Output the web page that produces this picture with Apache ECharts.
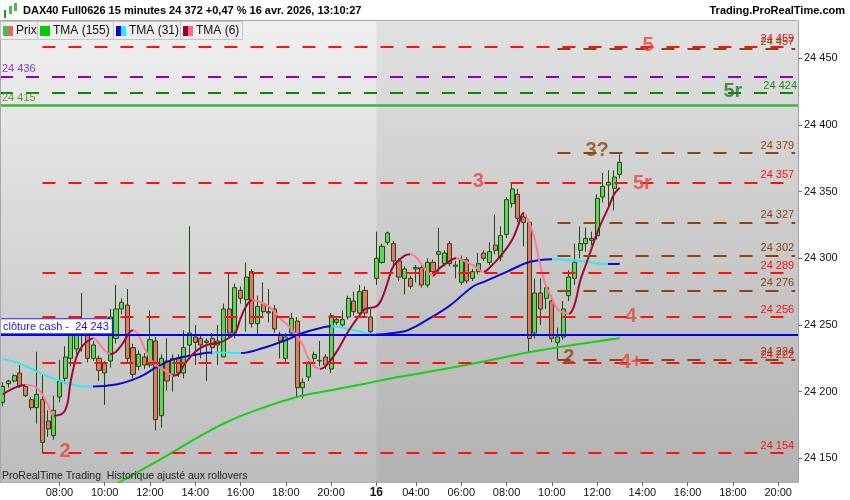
<!DOCTYPE html>
<html><head><meta charset="utf-8">
<script src="https://cdn.jsdelivr.net/npm/echarts@6/dist/echarts.min.js"></script>
<style>html,body{margin:0;padding:0;background:#fff}#c{width:850px;height:500px}</style>
</head><body><div id="c"></div>
<script>
// ---------- DATA ----------
function pad(n){return (n<10?'0':'')+n;}
const categories=[];
function addDay(day,h0,m0,h1,m1){for(let t=h0*60+m0;t<=h1*60+m1;t+=15)categories.push(day+' '+pad(Math.floor(t/60))+':'+pad(t%60));}
addDay('15/04',5,30,21,45);
addDay('16/04',2,15,20,45);

const xTickCats=['15/04 08:00','15/04 10:00','15/04 12:00','15/04 14:00','15/04 16:00','15/04 18:00','15/04 20:00','16/04 02:15','16/04 04:00','16/04 06:00','16/04 08:00','16/04 10:00','16/04 12:00','16/04 14:00','16/04 16:00','16/04 18:00','16/04 20:00'];
const xTickLabels=['08:00','10:00','12:00','14:00','16:00','18:00','20:00','16','04:00','06:00','08:00','10:00','12:00','14:00','16:00','18:00','20:00'];

// [open, close, low, high]
const candles=[
[24192,24204,24189,24207],[24206,24208,24203,24209],[24208,24212,24207,24213],[24214,24204,24203,24220],
[24204,24197,24196,24205],[24194,24188,24186,24196],[24188,24198,24176,24230],[24194,24162,24154,24214],
[24178,24172,24166,24186],[24167,24186,24164,24197],[24196,24208,24192,24224],[24210,24226,24206,24234],
[24225,24246,24219,24257],[24232,24247,24228,24252],[24247,24252,24230,24274],[24248,24225,24222,24251],
[24225,24235,24223,24238],[24225,24216,24208,24227],[24221,24214,24190,24223],[24223,24256,24218,24262],
[24240,24262,24236,24280],[24262,24267,24258,24270],[24265,24225,24222,24277],[24233,24213,24210,24236],
[24219,24228,24216,24231],[24226,24220,24217,24229],[24220,24239,24218,24261],[24238,24179,24171,24241],
[24182,24225,24173,24228],[24223,24208,24201,24240],[24213,24225,24200,24228],[24225,24214,24211,24228],
[24214,24233,24210,24246],[24235,24244,24225,24324],[24241,24237,24220,24250],[24240,24235,24225,24242],
[24237,24238,24208,24240],[24240,24233,24228,24244],[24235,24238,24220,24250],[24226,24262,24226,24266],
[24262,24244,24240,24289],[24244,24278,24240,24281],[24276,24270,24266,24279],[24269,24286,24245,24297],
[24290,24251,24248,24292],[24251,24264,24243,24272],[24266,24260,24255,24282],[24259,24260,24252,24277],
[24262,24247,24244,24265],[24243,24238,24225,24245],[24225,24241,24222,24244],[24244,24255,24242,24259],
[24253,24203,24196,24256],[24203,24207,24195,24210],[24211,24221,24208,24223],[24225,24228,24222,24230],
[24223,24223.5,24219,24238],[24226,24220,24217,24228],[24217,24257,24214,24259],[24252,24254,24250,24256],
[24250,24254,24248,24261],[24256,24270,24254,24272],[24268,24260,24257,24275],[24259,24275,24257,24280],
[24276,24259,24256,24279],[24256,24245,24243,24262],[24285,24300,24280,24320],[24297,24309,24296,24311],
[24312,24319,24310,24320],[24311,24298,24293,24313],[24298,24286,24283,24300],[24285,24292,24273,24294],
[24285,24279,24277,24287],[24292,24293,24282,24295],[24293,24280,24278,24296],[24280,24297,24278,24300],
[24297,24290,24288,24299],[24303,24305,24290,24323],[24296,24304,24294,24306],[24311,24296,24294,24313],
[24294,24295,24285,24298],[24282,24299,24280,24302],[24299,24283,24281,24301],[24285,24290,24283,24292],
[24290,24296,24288,24304],[24304,24300,24298,24306],[24297,24305,24295,24312],[24310,24306,24303,24333],
[24301,24317,24298,24324],[24318,24344,24315,24346],[24341,24352,24338,24357],[24348,24330,24327,24352],
[24331,24327,24309,24333],[24327,24240,24229,24329],[24244,24274,24240,24285],[24274,24262,24250,24285],
[24270,24278,24262,24282],[24268,24240,24237,24272],[24237,24241,24224,24248],[24241,24262,24239,24268],
[24272,24286,24268,24291],[24285,24297,24280,24311],[24306,24311,24300,24324],[24311,24315,24305,24323],
[24315,24313.5,24310,24320],[24317,24345,24314,24348],[24346,24354,24342,24364],[24355,24357,24339,24366],
[24352.5,24361,24336,24366],[24363,24372,24360,24378]
];

// [barIndex, value]
const tma155=[[19,24128],[21,24133],[29,24152],[35,24167],[40,24178],[46,24188],[52,24196],[58,24201],[64,24206],[68,24209.5],[74,24214],[83,24221],[95,24231],[109,24240]];
const tma31=[[0,24224.6],[3,24221],[6,24215],[10,24208.3],[13,24204.6],[16,24203.9],[20,24205.4],[23,24209],[25,24212.8],[27,24218],[30,24224],[34,24227.6],[37,24229.3],[42,24229],[46,24232.8],[50,24238.7],[53,24244],[56,24247.6],[58,24249.1],[62,24246.1],[66,24242.8],[67,24243],[71,24245.3],[73,24249],[76,24256.5],[79,24264.6],[83,24278.7],[85,24282.4],[89,24289.8],[93,24297.2],[97,24299.4],[102,24298],[107,24295.7],[108,24295.8],[109,24296]];
const tma6=[[0,24198],[4,24205],[6,24203],[8,24190],[9,24182],[11,24186],[12,24208],[13,24226],[14,24234],[15,24238],[16,24240],[17,24236],[18,24231],[19,24228],[20,24230],[21,24235],[23,24246],[24,24242],[25,24233],[26,24225],[27,24220],[29,24215],[30,24212],[31,24213],[32,24220],[34,24230],[36,24235],[38,24236.5],[39,24238],[41,24244],[42,24255],[43,24264],[44,24268.5],[45,24268],[47,24264],[49,24255],[51,24247],[53,24235],[54,24225],[56,24217],[57,24219],[59,24230],[61,24245],[63,24257],[64,24262],[66,24264],[67,24270],[68,24282],[69,24294],[71,24302],[72,24303],[73,24301],[75,24290],[76,24287],[77,24292],[79,24298],[80,24300],[81,24299],[83,24295],[85,24290],[86,24293],[88,24302],[90,24314],[91,24324],[92,24334],[93,24327],[94,24314],[95,24294],[96,24279],[97,24270],[98,24262],[99,24259.5],[100,24258.5],[101,24265],[102,24283],[103,24295],[104,24307],[105,24319],[106,24329],[107,24338],[108,24348],[109,24353]];

const redLevels=[24459,24357,24289,24256,24222,24154];
const brownLevels=[24457,24379,24327,24302,24276,24224];
const purpleLevel=24436, greenDashLevel=24424, greenSolidLevel=24415, cashLevel=24243;
const lastPrice=24372;
const redStart=7, brownStart=98;
const boxRange={from:88,to:103,top:24357,bottom:24276};
const annotations=[
 {text:'5',i:114,v:24460,kind:'red'},
 {text:'5r',i:129,v:24425,kind:'green'},
 {text:'3?',i:105,v:24381,kind:'brown'},
 {text:'3',i:84,v:24358,kind:'red'},
 {text:'5r',i:113,v:24356.5,kind:'red'},
 {text:'4',i:111,v:24256.5,kind:'red'},
 {text:'2',i:100,v:24225.5,kind:'brown'},
 {text:'4+',i:111,v:24222,kind:'red'},
 {text:'2',i:11,v:24155,kind:'red'}
];

// ---------- STYLE ----------
const FONT='"Liberation Sans", Arial, sans-serif';
const RED='#ff1010', BROWN='#8b4513', PURPLE='#8a00c8', GREEN_D='#0a870a', GREEN_S='#3cb43c', BLUE='#0000f0';
const annColor={red:'#e8433b',brown:'#8b4a12',green:'#237a1e'};
const YMIN=24132.25, YMAX=24478;
function fmt(v){return String(v).replace(/\B(?=(\d{3})+(?!\d))/g,' ');}
const last=categories.length-1;

function pieces(pts,up,dn){
  const out=[];
  for(let k=0;k<pts.length-1;k++){
    const c=pts[k+1][1]>=pts[k][1]?up:dn;
    if(k===0) out.push({lte:pts[k+1][0],color:c});
    else out.push({gt:pts[k][0],lte:pts[k+1][0],color:c});
  }
  out.push({gt:pts[pts.length-1][0],color:out[out.length-1].color});
  return out;
}

const levelLines=[];
function dashed(color){return {color:color,width:2,type:[13,13]};}
redLevels.forEach(v=>levelLines.push([{coord:[redStart,v],lineStyle:dashed(RED),label:{show:true,position:'insideEndTop',formatter:fmt(v),color:RED,fontSize:11,fontFamily:FONT,distance:[1,2]}},{coord:[last,v]}]));
brownLevels.forEach(v=>levelLines.push([{coord:[brownStart,v],lineStyle:dashed(BROWN),label:{show:true,position:'insideEndTop',formatter:fmt(v),color:BROWN,fontSize:11,fontFamily:FONT,distance:[1,2]}},{coord:[last,v]}]));
levelLines.push({yAxis:purpleLevel,lineStyle:dashed(PURPLE),label:{show:true,position:'insideStartTop',formatter:fmt(purpleLevel),color:'#8a3ad8',fontSize:11,fontFamily:FONT,distance:[2,3]}});
levelLines.push({yAxis:greenDashLevel,lineStyle:dashed(GREEN_D),label:{show:true,position:'insideEndTop',formatter:fmt(greenDashLevel),color:'#1a8a1a',fontSize:11,fontFamily:FONT,distance:[1,2]}});
levelLines.push({yAxis:greenSolidLevel,lineStyle:{color:GREEN_S,width:2.5,type:'solid'},label:{show:true,position:'insideStartTop',formatter:fmt(greenSolidLevel),color:'#5a9e2a',fontSize:11,fontFamily:FONT,distance:[2,2]}});
levelLines.push({yAxis:cashLevel,lineStyle:{color:BLUE,width:2,type:'solid'},label:{show:true,position:'insideStartTop',formatter:'clôture cash -  '+fmt(cashLevel),color:'#1a1ae0',fontSize:11,fontFamily:FONT,backgroundColor:'#fff',borderColor:'#2020ff',borderWidth:1,padding:[2,3,1,3],distance:[0,1]}});

const chart=echarts.init(document.getElementById('c'));
const option={
  animation:false,
  grid:{left:0,right:52,top:21,bottom:18,show:true,borderWidth:0,
    backgroundColor:new echarts.graphic.LinearGradient(0,0,0,1,[{offset:0,color:'#f0f0f0'},{offset:1,color:'#bcbcbc'}])},
  xAxis:{type:'category',data:categories,boundaryGap:true,
    axisLine:{show:true,lineStyle:{color:'#b0b0b0'}},
    axisTick:{show:true,alignWithLabel:true,length:4,interval:(i,v)=>xTickCats.indexOf(v)>=0,lineStyle:{color:'#666'}},
    axisLabel:{interval:(i,v)=>xTickCats.indexOf(v)>=0,formatter:v=>{const k=xTickCats.indexOf(v);const t=k>=0?xTickLabels[k]:'';return t==='16'?'{b|16}':t;},
      color:'#111',fontSize:11,fontFamily:FONT,margin:5,rich:{b:{fontWeight:'bold',fontSize:12,fontFamily:FONT,color:'#111'}}},
    splitLine:{show:false}},
  yAxis:{type:'value',position:'right',min:YMIN,max:YMAX,splitNumber:6,scale:true,
    axisLine:{show:true,lineStyle:{color:'#a0a0a0'}},
    axisTick:{show:true,length:4,lineStyle:{color:'#777'}},
    axisLabel:{showMinLabel:false,showMaxLabel:false,formatter:v=>(v%50===0?fmt(v):''),color:'#111',fontSize:11,fontFamily:FONT,margin:6},
    splitLine:{show:false}},
  visualMap:[
    {show:false,type:'piecewise',seriesIndex:2,dimension:0,pieces:pieces(tma31,'#0a0ac8','#33e8f0')},
    {show:false,type:'piecewise',seriesIndex:3,dimension:0,pieces:pieces(tma6,'#990a3a','#ff7a9a')}
  ],
  series:[
    {type:'candlestick',name:'Prix',data:candles,barWidth:4.6,z:2,
      itemStyle:{color:'#5cd65c',color0:'#e8776b',borderColor:'#264510',borderColor0:'#264510',borderWidth:1},
      markLine:{silent:true,symbol:['none','none'],data:[{yAxis:lastPrice,lineStyle:{opacity:0},
        label:{show:true,position:'end',formatter:fmt(lastPrice),color:'#000',fontSize:11,fontFamily:FONT,backgroundColor:'#ffcc11',borderColor:'#999',borderWidth:1,padding:[2,2,1,2],distance:5}}]}},
    {type:'line',name:'TMA (155)',data:tma155,smooth:0.4,showSymbol:false,z:3,lineStyle:{color:'#1ccc1c',width:2}},
    {type:'line',name:'TMA (31)',data:tma31,smooth:0.4,showSymbol:false,z:3,lineStyle:{width:2}},
    {type:'line',name:'TMA (6)',data:tma6,smooth:0.4,showSymbol:false,z:3,lineStyle:{width:2}},
    {type:'line',name:'levels',data:[],z:4,
      markLine:{silent:true,symbol:['none','none'],data:levelLines},
      markArea:{silent:true,data:[[{coord:[boxRange.from,boxRange.top]},{coord:[boxRange.to,boxRange.bottom]}]],
        itemStyle:{color:'rgba(0,0,0,0)',borderColor:'#000',borderWidth:1}}},
    {type:'scatter',name:'notes',z:5,symbol:'rect',symbolSize:1,itemStyle:{color:'rgba(0,0,0,0)'},
      data:annotations.map(a=>({value:[a.i,a.v],label:{show:true,position:'inside',formatter:a.text,color:annColor[a.kind],
        fontSize:20,fontWeight:'bold',fontFamily:FONT,
        textShadowColor:a.kind==='green'?'#0b3b0b':'transparent',textShadowOffsetX:a.kind==='green'?1:0,textShadowOffsetY:a.kind==='green'?1:0}}))}
  ]
};
chart.setOption(option);

// ---------- decoration (header, legend, day shading) ----------
const gx2=chart.convertToPixel({xAxisIndex:0},66);
const gtop=21, gbot=482, gright=798;
const tabs=[{x:0,w:37,t:'Prix',c:['#44c044','#e06666']},{x:37,w:76,t:'TMA (155)',c:['#00cc00','#00cc00']},{x:113,w:67,t:'TMA (31)',c:['#0000cc','#22f0ff']},{x:180,w:62,t:'TMA (6)',c:['#990033','#ff6688']}];
const g=[
  {type:'rect',z:1,silent:true,shape:{x:gx2,y:gtop,width:gright-gx2,height:gbot-gtop},
    style:{fill:new echarts.graphic.LinearGradient(0,0,0,1,[{offset:0,color:'#e1e1e1'},{offset:1,color:'#b2b2b2'}])}},
  {type:'rect',z:10,shape:{x:0,y:0,width:850,height:20},style:{fill:'#fff'}},
  {type:'line',z:10,shape:{x1:0,y1:20.5,x2:gright,y2:20.5},style:{stroke:'#a8a8a8',lineWidth:1}},
  {type:'line',z:10,shape:{x1:0.5,y1:20,x2:0.5,y2:gbot},style:{stroke:'#a8a8a8',lineWidth:1}},
  {type:'text',z:10,style:{text:'DAX40 Full0626 15 minutes 24 372 +0,47 % 16 avr. 2026, 13:10:27',x:23,y:11,fill:'#000',font:'bold 11px '+FONT,textVerticalAlign:'middle'}},
  {type:'text',z:10,style:{text:'Trading.ProRealTime.com',x:845,y:11,fill:'#000',font:'bold 11px '+FONT,textAlign:'right',textVerticalAlign:'middle'}},
  {type:'rect',z:10,shape:{x:4,y:10,width:2,height:8},style:{fill:'#2e8a2e'}},
  {type:'rect',z:10,shape:{x:9,y:6,width:3,height:8},style:{fill:'#44c044'}},
  {type:'rect',z:10,shape:{x:14,y:3,width:3,height:8},style:{fill:'#44c044'}},
  {type:'text',z:10,style:{text:'ProRealTime Trading  Historique ajusté aux rollovers',x:2,y:476,fill:'#222',font:'10.5px '+FONT,textVerticalAlign:'middle'}}
];
tabs.forEach(tb=>{
  g.push({type:'rect',z:10,shape:{x:tb.x+0.5,y:21.5,width:tb.w,height:18},style:{fill:'#efefef',stroke:'#c4c4c4',lineWidth:1}});
  g.push({type:'rect',z:11,shape:{x:tb.x+3,y:26,width:5,height:10},style:{fill:tb.c[0]}});
  g.push({type:'rect',z:11,shape:{x:tb.x+8,y:26,width:5,height:10},style:{fill:tb.c[1]}});
  g.push({type:'text',z:11,style:{text:tb.t,x:tb.x+16,y:31,fill:'#111',font:'12px '+FONT,textVerticalAlign:'middle'}});
});
chart.setOption({graphic:g});
</script></body></html>
